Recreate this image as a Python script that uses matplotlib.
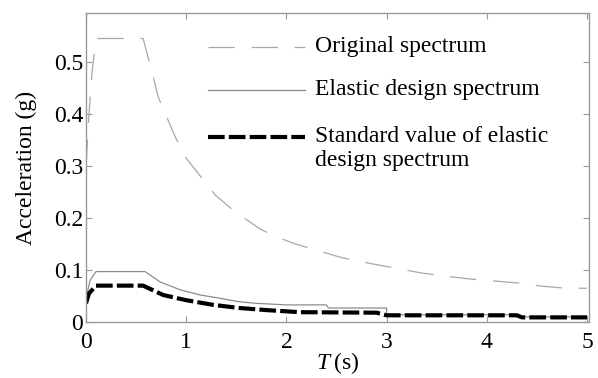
import matplotlib
matplotlib.use('Agg')
import matplotlib.pyplot as plt

# period (s) and spectral acceleration (g) for each curve
T_orig = [0, 0.03, 0.06, 0.1, 0.57, 0.66, 0.72, 0.89, 1.0, 1.29, 1.5, 1.73, 1.86,
          2.06, 2.3, 2.53, 2.66, 2.91, 3.13, 3.36, 3.6, 3.82, 4.07, 4.32, 4.55, 4.79, 5.0]
A_orig = [0.30, 0.40, 0.48, 0.545, 0.545, 0.48, 0.433, 0.356, 0.315, 0.244, 0.21, 0.18, 0.167,
          0.152, 0.138, 0.125, 0.119, 0.11, 0.102, 0.094, 0.088, 0.083, 0.079, 0.075, 0.069, 0.065, 0.065]

T_elastic = [0, 0.04, 0.1, 0.59, 0.74, 0.94, 1.14, 1.33, 1.53, 1.7, 2.0, 2.4, 2.42, 3.0, 3.0, 4.3, 4.3, 5.0]
A_elastic = [0.045, 0.08, 0.097, 0.097, 0.077, 0.062, 0.052, 0.046, 0.039, 0.036, 0.033, 0.033, 0.027,
             0.027, 0.014, 0.014, 0.010, 0.010]

T_std = [0, 0.03, 0.1, 0.57, 0.77, 1.0, 1.27, 1.53, 1.8, 2.13, 2.9, 3.0, 4.3, 4.35, 5.0]
A_std = [0.036, 0.055, 0.07, 0.07, 0.052, 0.042, 0.033, 0.027, 0.023, 0.019, 0.018, 0.013, 0.013, 0.009, 0.009]

labels = ['Original spectrum', 'Elastic design spectrum',
          'Standard value of elastic\ndesign spectrum']

plt.rcParams['font.family'] = ['Liberation Serif', 'DejaVu Serif']
plt.rcParams['mathtext.fontset'] = 'custom'
plt.rcParams['mathtext.it'] = 'Liberation Serif:italic'
plt.rcParams['mathtext.rm'] = 'Liberation Serif'
plt.rcParams['lines.scale_dashes'] = False

FS = 17

fig = plt.figure(figsize=(5.98, 3.78), dpi=100)
ax = fig.add_axes([0.1438, 0.148, 0.8412, 0.8176])

orig_style = dict(color='#a8a8a8', lw=0.9, dashes=(19, 12))
elastic_style = dict(color='#8c8c8c', lw=0.9)
std_style = dict(color='black', lw=3.0, dashes=(12, 3))

ax.plot(T_orig, A_orig, **orig_style)
ax.plot(T_elastic, A_elastic, **elastic_style)
ax.plot(T_std, A_std, **std_style)

ax.set_xlim(0, 5.02)
ax.set_ylim(0, 0.594)
ax.set_xticks([0, 1, 2, 3, 4, 5])
ax.set_yticks([0, 0.1, 0.2, 0.3, 0.4, 0.5])
ax.set_yticklabels(['0', '0.1', '0.2', '0.3', '0.4', '0.5'])
ax.tick_params(direction='in', length=4, width=0.8, color='#999999',
               labelsize=FS, top=True, right=True)
ax.tick_params(axis='x', pad=7)
ax.tick_params(axis='y', pad=2)
for s in ax.spines.values():
    s.set_color('#999999')
    s.set_linewidth(1.0)

ax.set_ylabel('Acceleration (g)', fontsize=FS, labelpad=12)
ax.set_xlabel('$\\mathit{T}$\u2009(s)', fontsize=FS, labelpad=-2)

# hand-placed legend
x0, x1, xt = 0.2425, 0.435, 0.455
rows = [0.89, 0.751, 0.599]
styles = [orig_style, elastic_style, std_style]
for y, st, lab in zip(rows, styles, labels):
    ax.plot([x0, x1], [y, y], transform=ax.transAxes, **st)
    for k, line in enumerate(lab.split('\n')):
        ax.text(xt, y - k * 0.075, line, transform=ax.transAxes, fontsize=FS, va='center')

fig.savefig('out.png', dpi=100)
